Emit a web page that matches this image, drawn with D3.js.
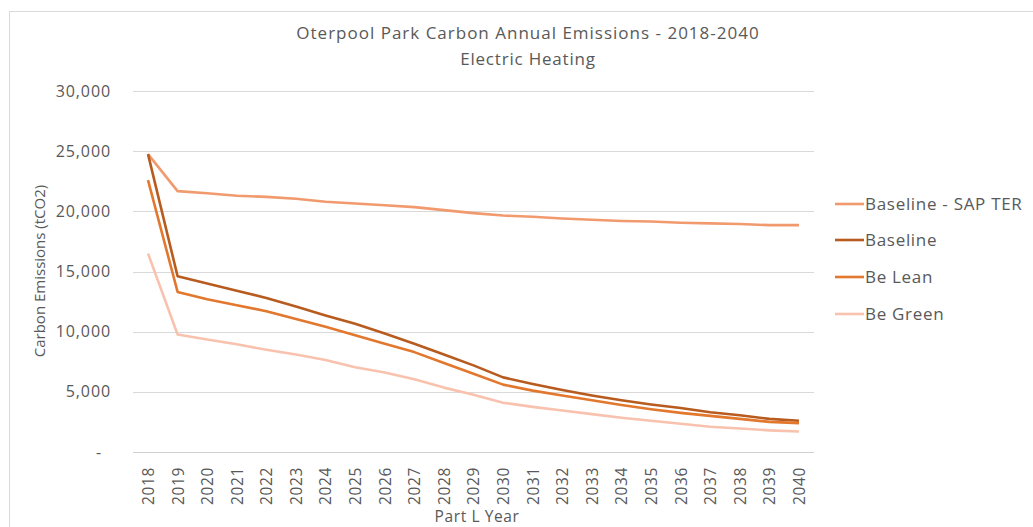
<!DOCTYPE html>
<html><head><meta charset="utf-8">
<script src="https://cdn.jsdelivr.net/npm/d3@7"></script>
<style>body{margin:0;background:#fff;} text{font-family:"Open Sans","Noto Sans",sans-serif;fill:#595959;}</style>
</head><body><svg id="c" width="1033" height="527"></svg>
<script>
const years = ["2018","2019","2020","2021","2022","2023","2024","2025","2026","2027","2028","2029","2030","2031","2032","2033","2034","2035","2036","2037","2038","2039","2040"];
const sapTer   = [24750,21680,21500,21300,21200,21050,20800,20650,20500,20350,20100,19850,19650,19550,19400,19300,19200,19150,19050,19000,18950,18850,18850];
const baseline = [24750,14600,14000,13400,12800,12100,11350,10650,9850,9000,8100,7200,6200,5650,5150,4700,4300,3950,3650,3300,3050,2750,2600];
const beLean   = [22600,13300,12700,12200,11700,11050,10400,9700,9000,8300,7400,6500,5600,5100,4700,4300,3900,3550,3250,3000,2750,2500,2400];
const beGreen  = [16500,9770,9350,8950,8500,8100,7650,7050,6600,6050,5350,4750,4100,3750,3450,3150,2850,2600,2350,2100,1950,1800,1700];
const seriesNames = ["Baseline - SAP TER","Baseline","Be Lean","Be Green"];
const seriesColors = ["#F19A6E","#B85B1F","#E2772E","#F8C2AE"];
const yTicks = [0,5000,10000,15000,20000,25000,30000];
const title1 = "Oterpool Park Carbon Annual Emissions - 2018-2040";
const title2 = "Electric Heating";
const yTitle = "Carbon Emissions (tCO2)";
const xTitle = "Part L Year";

const series = [sapTer, baseline, beLean, beGreen];
const svg = d3.select("#c");
svg.append("rect").attr("x",9.5).attr("y",11.5).attr("width",1100).attr("height",600)
  .attr("fill","none").attr("stroke","#d9d9d9");

const x = d3.scalePoint().domain(years).range([148,799]);
const y = d3.scaleLinear().domain([0,30000]).range([452,91]);

// gridlines
svg.append("g").selectAll("line").data(yTicks).join("line")
  .attr("x1",133).attr("x2",814).attr("y1",d=>Math.round(y(d))+0.5).attr("y2",d=>Math.round(y(d))+0.5)
  .attr("stroke",d=>d===0?"#d0d0d0":"#d9d9d9").attr("stroke-width",1);

// y axis labels
const yAxis = d3.axisLeft(y).tickValues(yTicks).tickSize(0).tickPadding(0)
  .tickFormat(d=> d===0 ? "-" : d3.format(",")(d));
const gy = svg.append("g").attr("transform","translate(111,0)").call(yAxis);
gy.select(".domain").remove();
gy.selectAll("text").style("font-size","16px").style("letter-spacing","0.9px").attr("fill","#595959").style("font-family","'Open Sans',sans-serif");
gy.selectAll("text").filter(d=>d===0).attr("dx","-9");

// x axis labels
const xAxis = d3.axisBottom(x).tickSize(0).tickPadding(0);
const gx = svg.append("g").attr("transform","translate(0,462)").call(xAxis);
gx.select(".domain").remove();
gx.selectAll("text").style("font-size","15.5px").style("letter-spacing","0.6px").attr("fill","#595959").style("font-family","'Open Sans',sans-serif")
  .attr("transform","rotate(-90)").attr("text-anchor","start").attr("x",-43).attr("y",0).attr("dy","0.35em");

// lines
const line = d3.line().x((d,i)=>x(years[i])).y(d=>y(d));
series.forEach((s,k)=>{
  svg.append("path").datum(s).attr("d",line).attr("fill","none")
    .attr("stroke",seriesColors[k]).attr("stroke-width",2.6).attr("stroke-linejoin","round");
});

// titles
svg.append("text").attr("x",528).attr("y",39).attr("text-anchor","middle").style("font-size","17px").style("letter-spacing","1px").text(title1);
svg.append("text").attr("x",528).attr("y",65).attr("text-anchor","middle").style("font-size","17px").style("letter-spacing","0.8px").text(title2);
svg.append("text").attr("transform","translate(45,271) rotate(-90)").attr("text-anchor","middle").style("font-size","15px").text(yTitle);
svg.append("text").attr("x",477).attr("y",522).attr("text-anchor","middle").style("font-size","15.5px").style("letter-spacing","0.6px").text(xTitle);

// legend
const legY = [204,240,277,314];
seriesNames.forEach((n,k)=>{
  svg.append("line").attr("x1",835).attr("x2",864).attr("y1",legY[k]).attr("y2",legY[k])
    .attr("stroke",seriesColors[k]).attr("stroke-width",2.6);
  svg.append("text").attr("x",865).attr("y",legY[k]).attr("dy","0.35em").style("font-size","17px").style("letter-spacing","0.7px").text(n);
});
</script></body></html>
